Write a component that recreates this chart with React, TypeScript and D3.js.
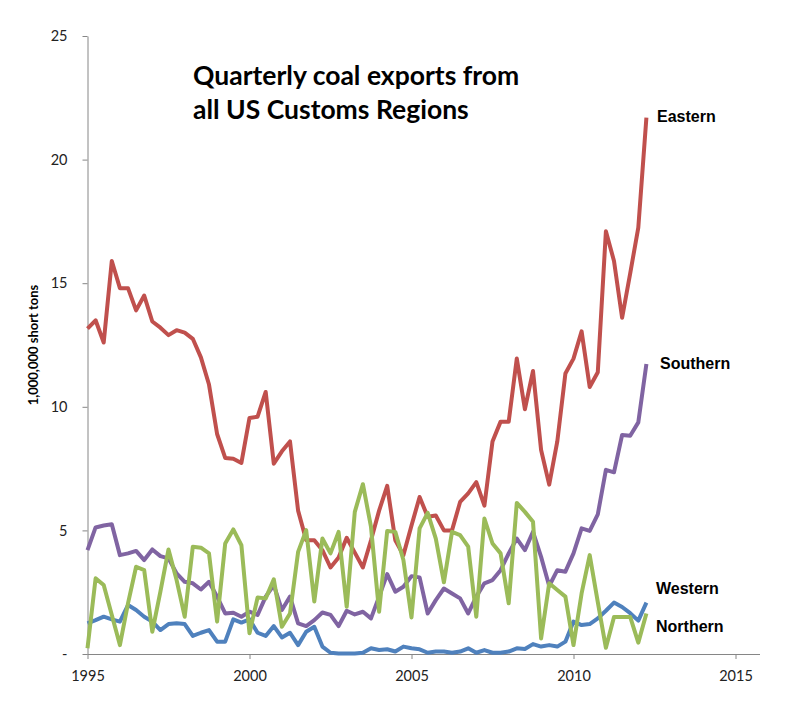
import React, { useEffect, useRef } from 'react';
import * as d3 from 'd3';

// Quarterly exports, million short tons, 1995 Q1 .. 2012 Q2
const startYear = 1995;

const eastern = [
  13.16, 13.5, 12.6, 15.9, 14.8, 14.8, 13.9, 14.5, 13.45, 13.2,
  12.9, 13.1, 13.0, 12.75, 12.0, 10.9, 8.9, 7.93, 7.9, 7.73,
  9.55, 9.6, 10.6, 7.7, 8.2, 8.6, 5.8, 4.6, 4.6, 4.2,
  3.5, 3.9, 4.7, 4.1, 3.5, 4.6, 5.8, 6.8, 4.6, 4.0,
  5.2, 6.35, 5.55, 5.6, 5.0, 5.0, 6.15, 6.5, 6.95, 6.0,
  8.6, 9.4, 9.4, 11.95, 9.9, 11.45, 8.25, 6.85, 8.6, 11.35,
  11.95, 13.05, 10.8, 11.4, 17.1, 15.9, 13.6, 15.4, 17.25, 21.7,
];

const southern = [
  4.2, 5.12, 5.2, 5.25, 4.0, 4.07, 4.17, 3.8, 4.23, 3.96,
  3.87, 3.26, 2.92, 2.86, 2.61, 2.92, 2.32, 1.64, 1.67, 1.51,
  1.71, 1.58, 2.32, 2.79, 1.78, 2.32, 1.24, 1.13, 1.37, 1.68,
  1.58, 1.13, 1.75, 1.6, 1.71, 1.44, 2.32, 3.23, 2.52, 2.72,
  3.15, 3.1, 1.64, 2.18, 2.65, 2.45, 2.25, 1.64, 2.32, 2.86,
  2.99, 3.39, 4.07, 4.67, 4.2, 4.94, 3.93, 2.75, 3.39, 3.33,
  4.07, 5.08, 4.98, 5.65, 7.45, 7.35, 8.86, 8.83, 9.37, 11.73,
];

const western = [
  1.24, 1.37, 1.51, 1.4, 1.31, 1.98, 1.78, 1.51, 1.31, 0.97,
  1.21, 1.24, 1.21, 0.73, 0.86, 0.97, 0.5, 0.5, 1.4, 1.27,
  1.4, 0.86, 0.73, 1.13, 0.67, 0.86, 0.36, 0.9, 1.1, 0.3,
  0.05, 0.02, 0.02, 0.02, 0.05, 0.23, 0.16, 0.19, 0.1, 0.3,
  0.23, 0.19, 0.05, 0.1, 0.1, 0.05, 0.1, 0.23, 0.05, 0.16,
  0.05, 0.05, 0.1, 0.23, 0.2, 0.4, 0.3, 0.36, 0.3, 0.5,
  1.31, 1.17, 1.21, 1.44, 1.75, 2.08, 1.9, 1.65, 1.35, 2.08,
];

const northern = [
  0.23, 3.06, 2.79, 1.58, 0.36, 2.05, 3.53, 3.39, 0.9, 2.52,
  4.23, 2.99, 1.51, 4.34, 4.3, 4.07, 1.31, 4.47, 5.04, 4.4,
  0.84, 2.29, 2.25, 3.02, 1.1, 1.64, 4.13, 5.01, 2.12, 4.67,
  4.07, 4.94, 1.91, 5.75, 6.87, 5.14, 1.71, 4.98, 4.94, 3.8,
  1.48, 5.08, 5.71, 4.67, 2.9, 4.94, 4.81, 4.34, 1.51, 5.48,
  4.47, 4.07, 2.05, 6.11, 5.75, 5.35, 0.63, 2.86, 2.59, 2.32,
  0.36, 2.45, 4.0, 2.1, 0.25, 1.5, 1.5, 1.5, 0.46, 1.64,
];

const xTicks = [1995, 2000, 2005, 2010, 2015];
const yTicks = [0, 5, 10, 15, 20, 25];

const seriesList = [
  { name: 'Eastern', values: eastern, color: '#C0504D' },
  { name: 'Western', values: western, color: '#4F81BD' },
  { name: 'Southern', values: southern, color: '#8064A2' },
  { name: 'Northern', values: northern, color: '#9BBB59' },
];

const App = () => {
  const svgRef = useRef<SVGSVGElement>(null);

  useEffect(() => {
    if (svgRef.current) drawChart();
  }, []);

  const drawChart = () => {
    const svg = d3.select(svgRef.current);
    svg.selectAll('*').remove();

    const x = d3.scaleLinear().domain([1995, 2015]).range([87.5, 735.5]);
    const y = d3.scaleLinear().domain([0, 25]).range([654, 36]);

    // Y axis
    const yAxis = svg.append('g')
      .attr('transform', 'translate(87.5,0)')
      .call(
        d3.axisLeft(y)
          .tickValues(yTicks)
          .tickSize(5)
          .tickSizeOuter(0)
          .tickPadding(15)
          .tickFormat(d => (+d === 0 ? '-' : String(d)))
      );
    yAxis.select('.domain').attr('stroke', '#868686');
    yAxis.selectAll('line').attr('stroke', '#868686');
    yAxis.selectAll('text')
      .style('font-family', 'Lato, sans-serif')
      .style('font-size', '14.5px')
      .attr('fill', '#222');

    // X axis
    const xAxis = svg.append('g')
      .attr('transform', 'translate(0,654)')
      .call(
        d3.axisBottom(x)
          .tickValues(xTicks)
          .tickSize(5)
          .tickSizeOuter(0)
          .tickPadding(12)
          .tickFormat(d3.format('d'))
      );
    xAxis.select('.domain').remove();
    xAxis.selectAll('line').attr('stroke', '#868686');
    xAxis.selectAll('text')
      .style('font-family', 'Lato, sans-serif')
      .style('font-size', '14.5px')
      .attr('fill', '#222');
    xAxis.append('line')
      .attr('x1', 87.5)
      .attr('x2', 760)
      .attr('y1', 0.5)
      .attr('y2', 0.5)
      .attr('stroke', '#868686');

    // Lines
    const line = d3.line<number>()
      .x((_, i) => x(startYear + i / 4))
      .y(d => y(d));

    seriesList.forEach(s => {
      svg.append('path')
        .datum(s.values)
        .attr('d', line)
        .attr('fill', 'none')
        .attr('stroke', s.color)
        .attr('stroke-width', 4)
        .attr('stroke-linejoin', 'round');
    });

    // Series labels
    const labels = [
      { text: 'Eastern', x: 657, y: 122 },
      { text: 'Southern', x: 660, y: 369 },
      { text: 'Western', x: 656, y: 594 },
      { text: 'Northern', x: 656, y: 632 },
    ];
    svg.selectAll('.series-label')
      .data(labels)
      .enter()
      .append('text')
      .attr('class', 'series-label')
      .attr('x', d => d.x)
      .attr('y', d => d.y)
      .text(d => d.text)
      .style('font-family', '"Liberation Sans", Arial, sans-serif')
      .style('font-size', '16px')
      .style('font-weight', 'bold')
      .attr('fill', '#000');

    // Title
    const title = svg.append('text')
      .style('font-family', 'Lato, sans-serif')
      .style('font-size', '26.5px')
      .style('font-weight', 'bold')
      .attr('fill', '#000');
    title.append('tspan').attr('x', 193).attr('y', 85).text('Quarterly coal exports from');
    title.append('tspan').attr('x', 193).attr('y', 119).text('all US Customs Regions');

    // Y axis label
    svg.append('text')
      .attr('transform', 'translate(38,345) rotate(-90)')
      .attr('text-anchor', 'middle')
      .text('1,000,000 short tons')
      .style('font-family', 'Lato, sans-serif')
      .style('font-size', '13px')
      .style('font-weight', 'bold')
      .attr('fill', '#000');
  };

  return (
    <svg
      ref={svgRef}
      width={789}
      height={713}
      style={{ position: 'absolute', left: 0, top: 0, background: '#fff' }}
    />
  );
};

export default App;
